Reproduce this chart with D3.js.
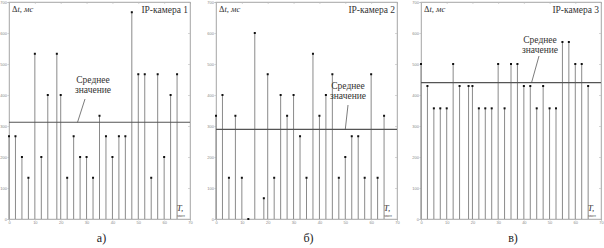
<!DOCTYPE html>
<html>
<head>
<meta charset="utf-8">
<script src="https://cdn.jsdelivr.net/npm/d3@7"></script>
<style>
  body { margin: 0; background: #fff; }
  svg { display: block; }
  text { font-family: "Liberation Serif", "DejaVu Serif", serif; }
</style>
</head>
<body>
<div id="chart"></div>
<script>
// время, мин (общие для трёх камер)
const times = [0, 2.5, 5, 7.5, 10, 12.5, 15, 18.5, 20, 22.5, 25, 27.5, 30, 32.5, 35,
    37.5, 40, 42.5, 45, 47.5, 50, 52.5, 55, 57.5, 60, 62.5, 65];

// задержки, мс
const cam1 = [267, 267, 200, 133, 533, 200, 400, 533, 400, 133, 267, 200, 200, 133, 333,
    267, 200, 267, 267, 667, 467, 467, 133, 467, 200, 400, 467];
const cam2 = [333, 400, 133, 333, 133, 0, 600, 67, 467, 133, 400, 333, 400, 267, 133,
    533, 333, 400, 467, 133, 200, 267, 267, 133, 467, 133, 333];
const cam3 = [500, 429, 357, 357, 357, 500, 429, 429, 429, 357, 357, 357, 500, 357, 500,
    500, 429, 429, 357, 429, 357, 357, 571, 571, 500, 500, 429];

const cameraNames = ['IP-камера 1', 'IP-камера 2', 'IP-камера 3'];
const panelLetters = ['а)', 'б)', 'в)'];
const meanValues = [312, 289, 440];

const xTicks = [0, 10, 20, 30, 40, 50, 60, 70];
const yTicks = [0, 100, 200, 300, 400, 500, 600, 700];

const series = [cam1, cam2, cam3];

const width = 604, height = 248;
const svg = d3.select('#chart').append('svg')
    .attr('width', width)
    .attr('height', height);

// положение панелей
const panels = [
    { left: 9, right: 190 },
    { left: 216, right: 397 },
    { left: 421, right: 601 }
];
const plotTop = 2, plotBottom = 219;

// где стоит подпись «Среднее значение» и куда идёт указатель
const notes = [
    { tx: 93, ty: 83, px1: 85, py1: 99, ptime: 26.5 },
    { tx: 348, ty: 89, px1: 348, py1: 105, ptime: 50 },
    { tx: 540, ty: 43, px1: 539, py1: 56, ptime: 43 }
];

series.forEach((values, i) => {
    const p = panels[i];
    const x = d3.scaleLinear().domain([0, 70]).range([p.left, p.right]);
    const y = d3.scaleLinear().domain([0, 700]).range([plotBottom, plotTop]);
    const g = svg.append('g');

    // рамка
    g.append('rect')
        .attr('x', p.left)
        .attr('y', plotTop)
        .attr('width', p.right - p.left)
        .attr('height', plotBottom - plotTop)
        .attr('fill', 'none')
        .attr('stroke', '#cfcfcf')
        .attr('stroke-width', 0.8);

    // оси
    const yAxis = g.append('g')
        .attr('transform', `translate(${p.left},0)`)
        .call(d3.axisLeft(y).tickValues(yTicks).tickSize(1.5).tickPadding(0.5));
    const xAxis = g.append('g')
        .attr('transform', `translate(0,${plotBottom})`)
        .call(d3.axisBottom(x).tickValues(xTicks).tickSize(1.5).tickPadding(1));
    // верхние и правые засечки
    g.append('g')
        .attr('transform', `translate(0,${plotTop})`)
        .call(d3.axisTop(x).tickValues(xTicks).tickSize(-2).tickFormat(''));
    g.append('g')
        .attr('transform', `translate(${p.right},0)`)
        .call(d3.axisRight(y).tickValues(yTicks).tickSize(-2).tickFormat(''));

    g.selectAll('.domain').attr('stroke', '#aaa').attr('stroke-width', 0.8);
    g.selectAll('.tick line').attr('stroke', '#bbb').attr('stroke-width', 0.6);
    [xAxis, yAxis].forEach(a => a.selectAll('text')
        .attr('fill', '#888')
        .style('font-family', '"Liberation Sans", sans-serif')
        .style('font-size', '4px'));

    // стебли
    const pts = times.map((t, k) => ({ t, v: values[k] }));
    g.selectAll('line.stem')
        .data(pts)
        .join('line')
        .attr('class', 'stem')
        .attr('x1', d => x(d.t))
        .attr('x2', d => x(d.t))
        .attr('y1', y(0))
        .attr('y2', d => y(d.v))
        .attr('stroke', '#8a8a8a')
        .attr('stroke-width', 1);

    g.selectAll('rect.dot')
        .data(pts)
        .join('rect')
        .attr('class', 'dot')
        .attr('x', d => x(d.t) - 1)
        .attr('y', d => y(d.v) - 1)
        .attr('width', 2)
        .attr('height', 2)
        .attr('fill', '#111');

    // среднее значение
    const m = meanValues[i];
    g.append('line')
        .attr('x1', p.left)
        .attr('x2', p.right)
        .attr('y1', y(m))
        .attr('y2', y(m))
        .attr('stroke', '#555')
        .attr('stroke-width', 1.1);

    const n = notes[i];
    g.append('line')
        .attr('x1', x(n.ptime))
        .attr('y1', y(m))
        .attr('x2', n.px1)
        .attr('y2', n.py1)
        .attr('stroke', '#444')
        .attr('stroke-width', 0.7);
    g.append('text')
        .attr('x', n.tx)
        .attr('y', n.ty)
        .attr('text-anchor', 'middle')
        .style('font-size', '9.5px')
        .attr('fill', '#333')
        .text('Среднее');
    g.append('text')
        .attr('x', n.tx)
        .attr('y', n.ty + 10)
        .attr('text-anchor', 'middle')
        .style('font-size', '9.5px')
        .attr('fill', '#333')
        .text('значение');

    // подписи
    g.append('text')
        .attr('x', p.right - 2)
        .attr('y', 13)
        .attr('text-anchor', 'end')
        .style('font-size', '9.5px')
        .attr('fill', '#333')
        .text(cameraNames[i]);

    const yl = g.append('text')
        .attr('x', p.left + 3)
        .attr('y', 12)
        .style('font-size', '8.5px')
        .style('font-style', 'italic')
        .attr('fill', '#333');
    yl.append('tspan').style('font-style', 'normal').text('Δ');
    yl.append('tspan').text('t, мс');

    g.append('text')
        .attr('x', p.right - 10)
        .attr('y', 211)
        .attr('text-anchor', 'middle')
        .style('font-size', '9px')
        .style('font-style', 'italic')
        .attr('fill', '#333')
        .text('T,');
    g.append('text')
        .attr('x', p.right - 9)
        .attr('y', 217)
        .attr('text-anchor', 'middle')
        .style('font-size', '4.5px')
        .attr('fill', '#555')
        .text('мин');

    g.append('text')
        .attr('x', (p.left + p.right) / 2 + 2)
        .attr('y', 242)
        .attr('text-anchor', 'middle')
        .style('font-size', '12px')
        .attr('fill', '#222')
        .text(panelLetters[i]);
});
</script>
</body>
</html>
